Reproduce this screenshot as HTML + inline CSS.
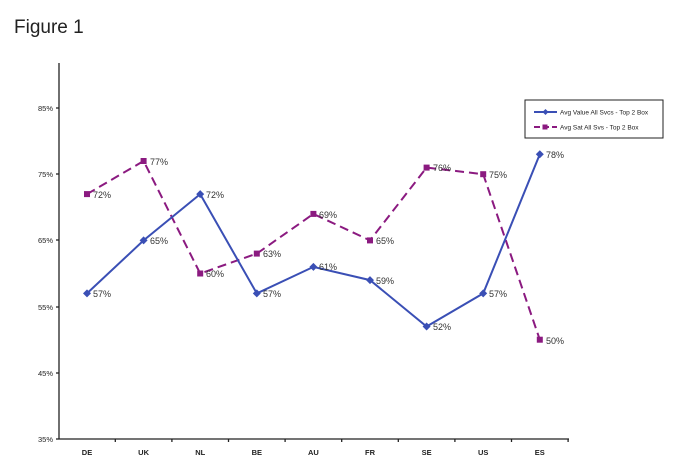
<!DOCTYPE html>
<html><head><meta charset="utf-8"><style>
body{margin:0;background:#fff;}
svg{display:block;font-family:"Liberation Sans",sans-serif;}
</style></head><body>
<svg width="675" height="470" viewBox="0 0 675 470">
<text x="14" y="33" font-size="19" fill="#222">Figure 1</text>
<g stroke="#222" stroke-width="1.3">
<line x1="59" y1="63" x2="59" y2="439"/>
<line x1="59" y1="439" x2="569" y2="439"/>
<line x1="56" y1="108" x2="59" y2="108"/>
<line x1="56" y1="174" x2="59" y2="174"/>
<line x1="56" y1="240" x2="59" y2="240"/>
<line x1="56" y1="307" x2="59" y2="307"/>
<line x1="56" y1="373" x2="59" y2="373"/>
<line x1="56" y1="439" x2="59" y2="439"/>
<line x1="115.3" y1="439" x2="115.3" y2="442"/>
<line x1="171.9" y1="439" x2="171.9" y2="442"/>
<line x1="228.5" y1="439" x2="228.5" y2="442"/>
<line x1="285.1" y1="439" x2="285.1" y2="442"/>
<line x1="341.7" y1="439" x2="341.7" y2="442"/>
<line x1="398.3" y1="439" x2="398.3" y2="442"/>
<line x1="454.9" y1="439" x2="454.9" y2="442"/>
<line x1="511.5" y1="439" x2="511.5" y2="442"/>
<line x1="568.1" y1="439" x2="568.1" y2="442"/>
</g>
<g font-size="7.5" fill="#222" text-anchor="end">
<text x="53" y="111">85%</text><text x="53" y="177">75%</text><text x="53" y="243">65%</text>
<text x="53" y="310">55%</text><text x="53" y="376">45%</text><text x="53" y="442">35%</text>
</g>
<g font-size="7.5" fill="#222" text-anchor="middle" font-weight="bold">
<text x="87" y="455">DE</text><text x="143.6" y="455">UK</text><text x="200.2" y="455">NL</text>
<text x="256.8" y="455">BE</text><text x="313.4" y="455">AU</text><text x="370" y="455">FR</text>
<text x="426.6" y="455">SE</text><text x="483.2" y="455">US</text><text x="539.8" y="455">ES</text>
</g>
<polyline fill="none" stroke="#8b1a80" stroke-width="2" stroke-dasharray="9,5" points="87,194.1 143.6,161 200.2,273.5 256.8,253.6 313.4,213.9 370,240.4 426.6,167.6 483.2,174.2 539.8,339.7"/>
<g fill="#8b1a80">
<rect x="84" y="191.1" width="6" height="6"/><rect x="140.6" y="158" width="6" height="6"/><rect x="197.2" y="270.5" width="6" height="6"/>
<rect x="253.8" y="250.6" width="6" height="6"/><rect x="310.4" y="210.9" width="6" height="6"/><rect x="367" y="237.4" width="6" height="6"/>
<rect x="423.6" y="164.6" width="6" height="6"/><rect x="480.2" y="171.2" width="6" height="6"/><rect x="536.8" y="336.7" width="6" height="6"/>
</g>
<polyline fill="none" stroke="#3a4fb5" stroke-width="2" points="87,293.4 143.6,240.4 200.2,194.1 256.8,293.4 313.4,266.9 370,280.1 426.6,326.5 483.2,293.4 539.8,154.3"/>
<g fill="#3a4fb5">
<path d="M87,289.4l4,4l-4,4l-4,-4z"/><path d="M143.6,236.4l4,4l-4,4l-4,-4z"/><path d="M200.2,190.1l4,4l-4,4l-4,-4z"/>
<path d="M256.8,289.4l4,4l-4,4l-4,-4z"/><path d="M313.4,262.9l4,4l-4,4l-4,-4z"/><path d="M370,276.1l4,4l-4,4l-4,-4z"/>
<path d="M426.6,322.5l4,4l-4,4l-4,-4z"/><path d="M483.2,289.4l4,4l-4,4l-4,-4z"/><path d="M539.8,150.3l4,4l-4,4l-4,-4z"/>
</g>
<g font-size="9" fill="#333">
<text x="93" y="297">57%</text><text x="150" y="244">65%</text><text x="206" y="198">72%</text>
<text x="263" y="297">57%</text><text x="319" y="270">61%</text><text x="376" y="284">59%</text>
<text x="433" y="330">52%</text><text x="489" y="297">57%</text><text x="546" y="158">78%</text>
<text x="93" y="198">72%</text><text x="150" y="165">77%</text><text x="206" y="277">60%</text>
<text x="263" y="257">63%</text><text x="319" y="218">69%</text><text x="376" y="244">65%</text>
<text x="433" y="171">76%</text><text x="489" y="178">75%</text><text x="546" y="344">50%</text>
</g>
<rect x="525" y="100" width="138" height="38" fill="#fff" stroke="#222" stroke-width="1"/>
<line x1="534" y1="112" x2="557" y2="112" stroke="#3a4fb5" stroke-width="2"/>
<path d="M545.5,109l3,3l-3,3l-3,-3z" fill="#3a4fb5"/>
<line x1="534" y1="127" x2="557" y2="127" stroke="#8b1a80" stroke-width="2" stroke-dasharray="6,3"/>
<rect x="542.5" y="124.5" width="5" height="5" fill="#8b1a80"/>
<g font-size="6.5" fill="#222"><text x="560" y="114.5">Avg Value All Svcs - Top 2 Box</text><text x="560" y="129.5">Avg Sat All Svs - Top 2 Box</text></g>
</svg>
</body></html>
